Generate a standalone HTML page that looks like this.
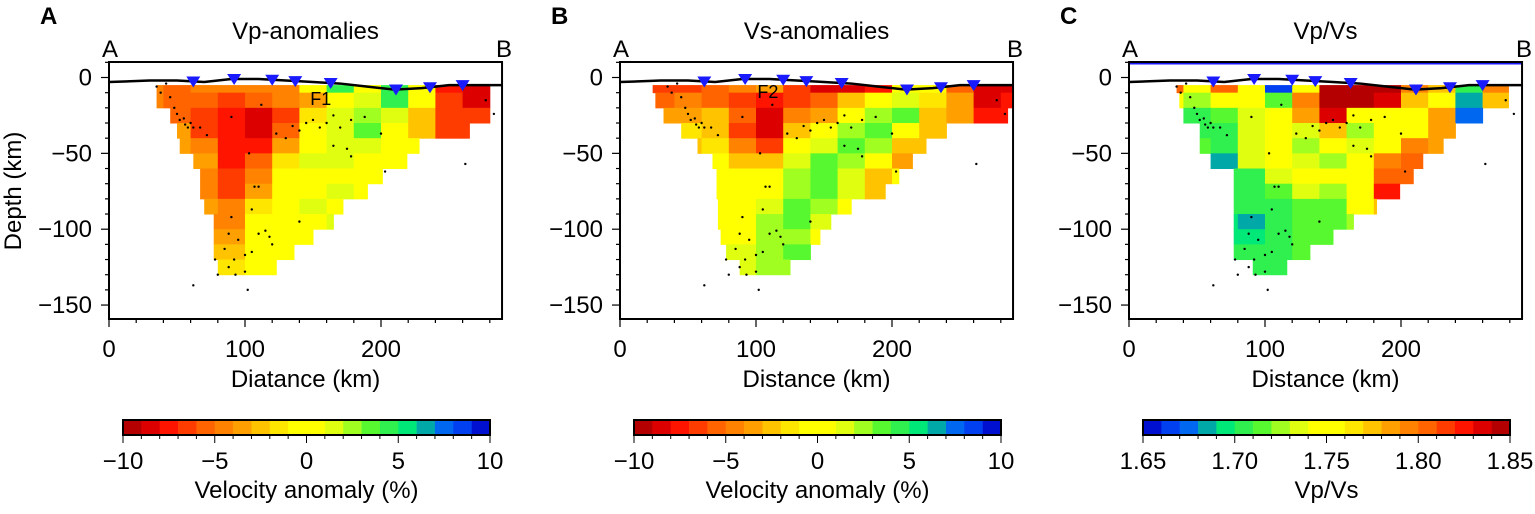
<!DOCTYPE html>
<html><head><meta charset="utf-8">
<style>
body{margin:0;background:#fff;}
svg text{font-family:"Liberation Sans",sans-serif;}
</style></head>
<body>
<svg id="fig" width="1535" height="509" viewBox="0 0 1535 509" xmlns="http://www.w3.org/2000/svg"></svg>
<script>
// ---- data ----
const colStartsKm = [20,40,60,80,100,120,140,160,180,200,220,240,260,280];
const rowStartsKm = [0,10,20,30,40,50,60,70,80,90,100,110,120];
const vpRows = [
 [-5,-6,-5,-5,-5,-5,0,4,0,4,0,-8,-9,null],
 [-5,-6,-6,-7,-6,-5,-4,0,1,4,-1,-7,-9,null],
 [-5,-6,-7,-8,-9,-7,-2,1,2,1,-3,-7,-7,null],
 [null,-4,-7,-8,-9,-6,-1,1,3,0,-3,-7,-7,null],
 [null,-4,-5,-8,-8,-4,0,1,1,0,-1,null,null,null],
 [null,null,-4,-8,-6,-2,1,1,0,-1,null,null,null,null],
 [null,null,-5,-7,-5,-1,0,0,0,0,null,null,null,null],
 [null,null,-5,-7,-4,0,0,1,0,null,null,null,null,null],
 [null,null,-4,-5,-2,0,1,0,null,null,null,null,null,null],
 [null,null,-5,-5,-1,0,0,1,null,null,null,null,null,null],
 [null,null,-4,-4,-1,0,0,null,null,null,null,null,null,null],
 [null,null,-3,-3,-1,0,null,null,null,null,null,null,null,null],
 [null,null,null,-2,0,0,null,null,null,null,null,null,null,null]
];
const vsRows = [
 [-7,-7,-6,-5,-4,-7,-9,-9,-8,0,-1,-6,-9,-9],
 [-6,-5,-6,-7,-8,-7,-6,-3,0,1,-2,-4,-9,-8],
 [-4,-4,-3,-6,-9,-5,-4,0,2,3,-3,-4,-8,-8],
 [null,-2,-3,-7,-9,-3,0,2,3,0,-3,-3,null,null],
 [null,-3,-2,-5,-7,-1,1,3,2,-3,-3,null,null,null],
 [null,null,-1,-3,-3,1,3,2,0,-4,-4,null,null,null],
 [null,null,-1,-1,-1,2,3,1,-3,-1,null,null,null,null],
 [null,null,0,0,0,2,3,1,-3,-2,null,null,null,null],
 [null,null,0,0,1,3,2,0,-1,null,null,null,null,null],
 [null,null,0,0,2,3,1,0,null,null,null,null,null,null],
 [null,null,0,0,2,2,0,null,null,null,null,null,null,null],
 [null,null,1,1,2,3,1,null,null,null,null,null,null,null],
 [null,null,null,1,2,2,null,null,null,null,null,null,null,null]
];
const vpvsRows = [
 [1.80,1.76,1.80,1.75,1.67,1.75,1.85,1.85,1.84,1.79,1.77,1.71,1.79,null],
 [1.75,1.73,1.75,1.75,1.72,1.79,1.85,1.85,1.83,1.77,1.76,1.69,1.77,null],
 [null,1.71,1.72,1.74,1.75,1.78,1.83,1.76,1.75,1.76,1.78,1.68,null,null],
 [null,1.71,1.71,1.74,1.75,1.74,1.77,1.73,1.75,1.75,1.78,null,null,null],
 [null,1.72,1.71,1.74,1.75,1.73,1.75,1.74,1.76,1.79,1.78,null,null,null],
 [null,null,1.69,1.74,1.75,1.74,1.73,1.75,1.79,1.80,null,null,null,null],
 [null,null,1.71,1.71,1.74,1.75,1.75,1.75,1.80,1.80,null,null,null,null],
 [null,null,1.71,1.71,1.72,1.74,1.73,1.76,1.82,null,null,null,null,null],
 [null,null,1.71,1.71,1.71,1.72,1.72,1.76,1.77,null,null,null,null,null],
 [null,null,1.70,1.69,1.71,1.72,1.72,1.73,null,null,null,null,null,null],
 [null,null,1.70,1.70,1.71,1.72,1.72,null,null,null,null,null,null,null],
 [null,null,1.71,1.71,1.71,1.72,null,null,null,null,null,null,null,null],
 [null,null,null,1.71,1.71,null,null,null,null,null,null,null,null,null]
];
// model coverage extents per depth row (km)
const vpLeftKm  = [35,35,45,50,52,62,67,67,70,77,77,77,80];
const vpRightKm = [283,283,283,265,228,219,201,190,172,165,150,136,123];
const vsLeftKm  = [24,26,32,45,57,68,71,71,72,72,74,78,88];
const vsRightKm = [290,290,285,240,225,215,205,195,170,155,147,140,125];
const vpvsLeftKm  = [35,37,40,52,52,60,77,77,77,77,77,77,91];
const vpvsRightKm = [279,279,279,262,231,216,209,199,182,165,150,133,116];

const topoX = [0,30,50,70,90,110,130,150,170,190,210,230,250,270,290];
const topoElev = [-3,-2,-2,-3,-1,-1,-2,-3,-4,-6,-8,-7,-5,-5,-5];
const stationX = [62,92,120,137,163,211,236,260];
const quakeX = [35,38,42,45,48,50,52,55,56,58,60,62,67,72,90,103,112,123,130,135,140,145,150,155,160,165,170,178,188,175,178,165,200,203,107,110,105,140,90,88,95,110,115,118,120,85,100,105,92,78,88,100,93,80,62,102,262,283,277];
const quakeDepth = [6,10,4,13,20,24,28,27,31,33,30,33,33,38,26,50,18,37,40,32,35,30,28,33,30,25,33,28,26,47,52,45,37,62,72,72,87,95,92,103,107,103,101,105,110,113,117,115,120,120,125,128,130,130,137,140,57,24,15];
const anomTicks = [-10,-5,0,5,10];
const anomTickLabels = ["\u221210","\u22125","0","5","10"];
const ratioTicks = [1.65,1.70,1.75,1.80,1.85];
const ratioTickLabels = ["1.65","1.70","1.75","1.80","1.85"];
const depthTicks = [0,-50,-100,-150];
const depthTickLabels = ["0","\u221250","\u2212100","\u2212150"];
const distTicks = [0,100,200];

// ---- helpers ----
const NS="http://www.w3.org/2000/svg";
const svg=document.getElementById('fig');
function mk(tag,attrs,parent){const e=document.createElementNS(NS,tag);for(const k in attrs)e.setAttribute(k,attrs[k]);(parent||svg).appendChild(e);return e;}
const palette=['#b40000','#dc0000','#ff1400','#ff3c00','#ff6400','#ff8200','#ffa000','#ffc300','#ffe600','#ffff00','#ffff00','#e0ff10','#a0ff20','#58f830','#30f050','#00e878','#00a8a8','#0068f0','#0040f0','#0010d0'];
function binColor(a){let i=Math.floor(a+10);if(i<0)i=0;if(i>19)i=19;return palette[i];}

const X0=109, KX=1.36, Y0=77.5, KY=1.517;
const PT=62, PB=319, PR_KM=289;
const FS=24;

function panel(off,letter,title,rows,leftKm,rightKm,isRatio,xlabel,cbTitle){
  const g=mk('g',{}); 
  const xs=km=>off+X0+km*KX, ys=d=>Y0+d*KY;
  const L=xs(0), R=xs(PR_KM);
  const cid='clip'+letter;
  const cp=mk('clipPath',{id:cid},g); mk('rect',{x:L,y:PT,width:R-L,height:PB-PT},cp);
  const hm=mk('g',{'clip-path':`url(#${cid})`},g); 
  rows.forEach((row,ri)=>{row.forEach((v,ci)=>{ if(v===null)return;
    const k0=Math.max(colStartsKm[ci],leftKm[ri]), k1=Math.min(colStartsKm[ci]+20,rightKm[ri]);
    if(k1<=k0)return;
    const a=isRatio?(1.75-v)*100:v;
    const d0=ri===0?5:rowStartsKm[ri];
    const r=mk('rect',{x:xs(k0),y:ys(d0),width:xs(k1)-xs(k0)+0.5,height:ys(rowStartsKm[ri]+10)-ys(d0)+0.5,fill:binColor(a)},hm);
    
    
  });});
  quakeX.forEach((q,i)=>{const c=mk('circle',{cx:xs(q),cy:ys(quakeDepth[i]),r:1.2,fill:'#000'},g);
    
    });
  const tp=mk('polyline',{points:topoX.map((x,i)=>xs(x)+','+ys(-topoElev[i])).join(' '),fill:'none',stroke:'#000','stroke-width':2.5,'clip-path':`url(#${cid})`},g);
  
  stationX.forEach(s=>{let e=0;for(let i=0;i<topoX.length-1;i++){if(s>=topoX[i]&&s<=topoX[i+1]){e=topoElev[i]+(topoElev[i+1]-topoElev[i])*(s-topoX[i])/(topoX[i+1]-topoX[i]);}}
    const x=xs(s),y=ys(-e);
    const t=mk('polygon',{points:`${x-7},${y-5} ${x+7},${y-5} ${x},${y+6}`,fill:'#1a1aff'},g);
    });
  if(isRatio){const bl=mk('line',{x1:L,y1:PT+1.5,x2:R,y2:PT+1.5,stroke:'#1a1aff','stroke-width':2},g);}
  const fr=mk('rect',{x:L,y:PT,width:R-L,height:PB-PT,fill:'none',stroke:'#000','stroke-width':2},g);
  for(let d=-10;d<=150;d+=10){const y=ys(d);const major=d%50===0;mk('line',{x1:L,y1:y,x2:L-(major?8:4),y2:y,stroke:'#000','stroke-width':1.2},g);}
  depthTicks.forEach((t,i)=>{const tx=mk('text',{x:L-17,y:ys(-t)+8,'text-anchor':'end','font-size':FS},g);tx.textContent=depthTickLabels[i];});
  for(let k=0;k<=PR_KM;k+=20){const x=xs(k);const major=k%100===0;mk('line',{x1:x,y1:PB,x2:x,y2:PB+(major?8:4),stroke:'#000','stroke-width':1.2},g);}
  distTicks.forEach(t=>{const tx=mk('text',{x:xs(t),y:357,'text-anchor':'middle','font-size':FS},g);tx.textContent=t;});
  const xl=mk('text',{x:(L+R)/2,y:387,'text-anchor':'middle','font-size':FS},g);xl.textContent=xlabel;
  const ti=mk('text',{x:(L+R)/2,y:39,'text-anchor':'middle','font-size':FS},g);ti.textContent=title;
  const la=mk('text',{x:off+40,y:24,'font-size':FS,'font-weight':'bold'},g);la.textContent=letter;
  const pa=mk('text',{x:L-7,y:57,'font-size':FS},g);pa.textContent='A';
  const pb=mk('text',{x:R-6,y:57,'font-size':FS},g);pb.textContent='B';
  if(letter==='A'){const yl=mk('text',{x:21,y:191,'text-anchor':'middle','font-size':FS,transform:'rotate(-90 21 191)'},g);yl.textContent='Depth (km)';}
  const cbL=off+123, cbR=off+490, cbT=420, cbB=435, n=20, w=(cbR-cbL)/n;
  const cb=mk('g',{},g);
  for(let i=0;i<n;i++){const a=isRatio?(10-i-0.5):(-10+i+0.5);mk('rect',{x:cbL+i*w,y:cbT,width:w+0.3,height:cbB-cbT,fill:binColor(a)},cb);}
  mk('rect',{x:cbL,y:cbT,width:cbR-cbL,height:cbB-cbT,fill:'none',stroke:'#000','stroke-width':2},cb);
  for(let i=0;i<=n;i++){const x=cbL+i*w;mk('line',{x1:x,y1:cbB,x2:x,y2:cbB+(i%5===0?8:4),stroke:'#000'},cb);}
  const tv=isRatio?ratioTicks:anomTicks, tl=isRatio?ratioTickLabels:anomTickLabels;
  tv.forEach((t,i)=>{const f=isRatio?(t-1.65)/0.2:(t+10)/20;const x=cbL+f*(cbR-cbL);
    const tx=mk('text',{x:x,y:469,'text-anchor':'middle','font-size':FS},cb);tx.textContent=tl[i];});
  const ct=mk('text',{x:(cbL+cbR)/2,y:498,'text-anchor':'middle','font-size':FS},cb);ct.textContent=cbTitle;
  return xs;
}
const xsA=panel(0,'A','Vp-anomalies',vpRows,vpLeftKm,vpRightKm,false,'Diatance (km)','Velocity anomaly (%)');
const xsB=panel(511,'B','Vs-anomalies',vsRows,vsLeftKm,vsRightKm,false,'Distance (km)','Velocity anomaly (%)');
panel(1020,'C','Vp/Vs',vpvsRows,vpvsLeftKm,vpvsRightKm,true,'Distance (km)','Vp/Vs');
let f1=mk('text',{x:xsA(148),y:105,'font-size':18});f1.textContent='F1';
let f2=mk('text',{x:xsB(101),y:98,'font-size':18});f2.textContent='F2';
</script>
</body></html>
